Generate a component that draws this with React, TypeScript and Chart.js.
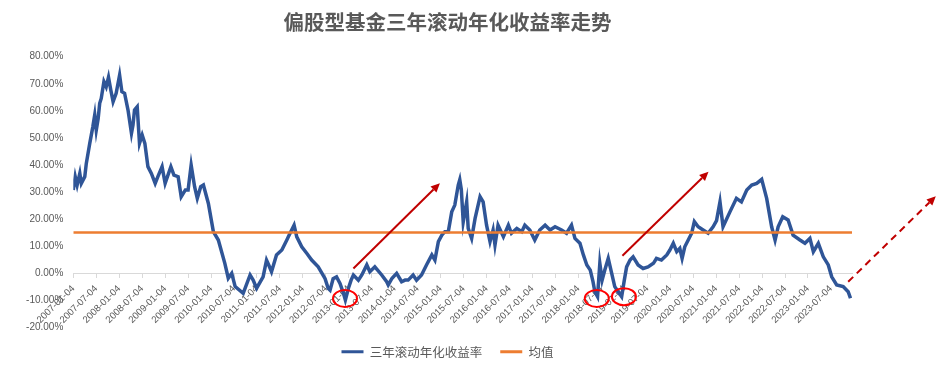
import React, { useEffect, useRef } from 'react';
import { Chart, registerables } from 'chart.js';

Chart.register(...registerables);

const TITLE = '偏股型基金三年滚动年化收益率走势';
const SERIES_NAMES = ['三年滚动年化收益率', '均值'];

const TICK_LABELS = [
  '2007-01-04', '2007-07-04', '2008-01-04', '2008-07-04', '2009-01-04', '2009-07-04',
  '2010-01-04', '2010-07-04', '2011-01-04', '2011-07-04', '2012-01-04', '2012-07-04',
  '2013-01-04', '2013-07-04', '2014-01-04', '2014-07-04', '2015-01-04', '2015-07-04',
  '2016-01-04', '2016-07-04', '2017-01-04', '2017-07-04', '2018-01-04', '2018-07-04',
  '2019-01-04', '2019-07-04', '2020-01-04', '2020-07-04', '2021-01-04', '2021-07-04',
  '2022-01-04', '2022-07-04', '2023-01-04', '2023-07-04',
];

// months elapsed since 2007-01-04
const MONTHS = [
  0.0, 0.5, 1.0, 1.7, 2.1, 3.0, 3.4, 4.3, 5.1, 5.6, 6.0, 6.5, 6.9, 7.3, 8.0, 8.6, 9.2, 9.8,
  10.4, 11.2, 12.1, 12.7, 13.4, 14.3, 15.2, 15.6, 16.0, 16.7, 17.3, 18.0, 18.7, 19.5, 20.4,
  21.4, 22.1, 23.2, 24.0, 25.5, 26.3, 27.4, 28.2, 29.3, 30.0, 30.8, 31.7, 32.4, 33.3, 34.0,
  35.3, 36.6, 37.9, 39.6, 40.5, 41.4, 42.3, 44.4, 46.2, 47.0, 47.9, 49.6, 50.5, 51.1, 51.8,
  53.1, 54.5, 55.8, 56.2, 57.7, 58.4, 59.7, 61.0, 62.3, 64.0, 65.0, 65.8, 66.6, 67.1, 67.9,
  68.8, 69.7, 70.6, 71.1, 71.9, 72.6, 73.2, 74.5, 75.4, 76.7, 77.5, 78.8, 80.6, 81.9, 82.3,
  83.3, 84.5, 85.8, 86.7, 87.5, 88.8, 89.7, 91.0, 92.3, 93.7, 94.5, 95.4, 96.3, 97.1, 98.0,
  98.9, 99.7, 100.6, 101.0, 101.4, 101.9, 102.8, 103.2, 104.1, 105.0, 106.3, 107.1, 108.0,
  108.9, 109.7, 110.2, 111.0, 112.4, 113.7, 114.5, 115.9, 117.2, 118.0, 119.3, 120.6, 121.9,
  123.3, 124.6, 125.9, 127.6, 128.9, 130.2, 131.1, 132.4, 133.3, 134.2, 135.1, 135.8, 136.3,
  137.0, 137.6, 138.2, 138.9, 139.8, 140.7, 141.5, 142.4, 143.3, 144.0, 144.6, 145.5, 146.3,
  147.6, 148.9, 150.2, 151.6, 152.4, 153.7, 155.1, 155.9, 156.8, 157.7, 158.5, 159.1, 159.8,
  160.7, 161.6, 162.3, 163.3, 164.6, 165.9, 167.2, 168.1, 169.0, 169.8, 171.6, 173.3, 174.6,
  176.0, 177.3, 178.6, 179.9, 181.2, 182.5, 183.4, 184.2, 185.4, 186.8, 188.1, 189.9, 191.2,
  192.5, 193.4, 194.7, 196.0, 197.3, 198.2, 199.5, 201.2, 202.5, 203.1,
];

// three-year rolling annualised return, %
const RETURNS = [
  30.8, 35.7, 32.6, 36.9, 33.2, 35.7, 40.6, 48.0, 54.1, 58.5, 52.9, 57.2, 62.8, 64.6, 70.8, 68.9, 72.4, 67.7,
  63.4, 66.5, 73.2, 67.1, 66.5, 60.3, 51.7, 54.8, 60.3, 61.5, 48.0, 51.1, 48.0, 39.4, 36.9,
  33.2, 35.7, 39.4, 33.2, 39.4, 36.3, 35.7, 28.3, 30.8, 30.8, 40.0, 32.0, 27.7, 32.0, 32.6,
  25.8, 15.4, 12.3, 3.7, -1.8, 0.0, -4.9, -7.4, -0.6, -2.5, -5.5, -1.3, 4.9, 3.0, 0.6,
  6.8, 8.6, 12.3, 13.5, 17.8, 13.5, 9.8, 7.4, 4.9, 2.4, 0.0, -2.0, -5.5, -6.2, -2.0,
  -1.3, -3.7, -7.4, -9.9, -5.5, -2.5, -0.6, -2.5, -0.6, 3.1, 0.6, 2.4, -0.6, -3.1, -4.3,
  -1.8, 0.0, -3.1, -2.5, -2.5, -0.6, -2.5, -0.6, 3.1, 6.8, 4.9, 11.7, 14.1, 15.4, 15.4,
  22.7, 25.2, 32.6, 34.6, 31.0, 19.0, 26.4, 16.6, 12.9, 20.3, 28.3, 26.4, 17.8,
  11.7, 16.0, 10.5, 17.8, 13.5, 17.8, 14.8, 16.6, 15.4, 17.8, 16.0, 12.3, 16.0,
  17.8, 16.0, 17.2, 16.0, 14.8, 17.8, 12.9, 11.1, 6.8, 3.1, 1.2, -3.0, -6.8,
  -8.6, 3.7, -2.5, 1.2, 5.5, 0.0, -4.9, -6.8, -8.6, -2.5, 2.4, 4.9, 6.1,
  3.1, 1.8, 2.4, 3.7, 5.5, 4.9, 6.8, 8.6, 11.1, 8.0, 9.2, 5.5, 9.8,
  12.3, 14.8, 19.1, 17.2, 16.0, 14.8, 17.2, 19.5, 26.4, 17.2, 22.7, 27.7, 26.4,
  30.8, 32.6, 33.2, 34.7, 27.7, 17.2, 12.3, 17.2, 20.9, 19.7, 14.1, 12.3, 11.1,
  12.9, 8.0, 11.1, 6.1, 3.1, -1.3, -4.3, -4.9, -6.8, -9.2,
];

const MEAN_RETURN = 15.1;
const X_MAX = 203.5;

// annotations in data coordinates: [month, value]
const ARROWS = [
  { from: [73.2, 1.8], to: [95.8, 33.3], dashed: false },
  { from: [143.5, 6.5], to: [166.0, 37.5], dashed: false },
  { from: [202.5, -3.1], to: [225.4, 28.5], dashed: true },
];
const CIRCLES = [
  [71.0, -9.3],
  [136.8, -9.3],
  [143.9, -8.6],
];

const annotationPlugin = {
  id: 'handAnnotations',
  afterDraw(chart: any) {
    const { ctx } = chart;
    const xs = chart.scales.x;
    const ys = chart.scales.y;
    ctx.save();
    ctx.strokeStyle = '#FF0000';
    ctx.lineWidth = 2;
    CIRCLES.forEach(([m, v]) => {
      ctx.beginPath();
      ctx.ellipse(xs.getPixelForValue(m), ys.getPixelForValue(v), 12, 8.5, 0, 0, Math.PI * 2);
      ctx.stroke();
    });
    ARROWS.forEach((a) => {
      const x1 = xs.getPixelForValue(a.from[0]);
      const y1 = ys.getPixelForValue(a.from[1]);
      const x2 = xs.getPixelForValue(a.to[0]);
      const y2 = ys.getPixelForValue(a.to[1]);
      const ang = Math.atan2(y2 - y1, x2 - x1);
      const head = 9;
      const half = 4.2;
      const bx = x2 - head * Math.cos(ang);
      const by = y2 - head * Math.sin(ang);
      ctx.strokeStyle = '#C00000';
      ctx.fillStyle = '#C00000';
      ctx.lineWidth = 2;
      ctx.setLineDash(a.dashed ? [7, 5] : []);
      ctx.beginPath();
      ctx.moveTo(x1, y1);
      ctx.lineTo(bx, by);
      ctx.stroke();
      ctx.setLineDash([]);
      ctx.beginPath();
      ctx.moveTo(x2, y2);
      ctx.lineTo(bx + half * Math.sin(ang), by - half * Math.cos(ang));
      ctx.lineTo(bx - half * Math.sin(ang), by + half * Math.cos(ang));
      ctx.closePath();
      ctx.fill();
    });
    ctx.restore();
  },
};

const TEXT_COLOR = '#595959';

export default function App() {
  const ref = useRef<HTMLCanvasElement | null>(null);

  useEffect(() => {
    if (!ref.current) return;
    const chart = new Chart(ref.current, {
      type: 'line',
      data: {
        datasets: [
          {
            label: SERIES_NAMES[0],
            data: MONTHS.map((m, i) => ({ x: m, y: RETURNS[i] })),
            borderColor: '#2F5597',
            backgroundColor: '#2F5597',
            borderWidth: 3.5,
            pointRadius: 0,
            tension: 0,
            order: 1,
          },
          {
            label: SERIES_NAMES[1],
            data: [
              { x: 0, y: MEAN_RETURN },
              { x: X_MAX, y: MEAN_RETURN },
            ],
            borderColor: '#ED7D31',
            backgroundColor: '#ED7D31',
            borderWidth: 2.5,
            pointRadius: 0,
            order: 0,
          },
        ],
      },
      options: {
        animation: false,
        responsive: false,
        layout: { padding: { left: 18, right: 60, top: 0, bottom: -2 } },
        plugins: {
          title: {
            display: true,
            text: TITLE,
            color: TEXT_COLOR,
            font: { family: 'Noto Sans CJK SC', size: 20.5, weight: 'bold', lineHeight: 1.2 },
            padding: { top: 10, bottom: 22.1 },
          },
          legend: {
            position: 'bottom',
            labels: {
              boxWidth: 22,
              boxHeight: 3,
              padding: 18,
              color: TEXT_COLOR,
              font: { family: 'Noto Sans CJK SC', size: 12.5 },
              sort: (a: any, b: any) => a.datasetIndex - b.datasetIndex,
              generateLabels: (c: any) =>
                (Chart.defaults.plugins.legend.labels as any)
                  .generateLabels(c)
                  .map((l: any) => ({ ...l, lineWidth: 0, fillStyle: l.strokeStyle })),
            },
          },
          tooltip: { enabled: false },
        },
        scales: {
          x: {
            type: 'linear',
            min: 0,
            max: X_MAX,
            position: { y: 0 } as any,
            grid: { display: true, drawOnChartArea: false, drawTicks: true, tickLength: 4, color: '#D9D9D9' },
            border: { display: true, color: '#D9D9D9', width: 1 },
            ticks: {
              stepSize: 6,
              autoSkip: false,
              includeBounds: false,
              minRotation: 45,
              maxRotation: 45,
              padding: 8,
              color: TEXT_COLOR,
              font: { family: 'Liberation Sans', size: 9.6, lineHeight: 0.5 },
              callback: (v: any) => {
                const i = Number(v) / 6;
                return Number.isInteger(i) && TICK_LABELS[i] ? TICK_LABELS[i] : '';
              },
            },
            afterFit: (s: any) => {
              s.paddingLeft = 0;
              s.paddingRight = 0;
            },
          },
          y: {
            min: -20,
            max: 80,
            grid: { display: false, drawTicks: false },
            border: { display: false },
            ticks: {
              stepSize: 10,
              padding: 10,
              color: TEXT_COLOR,
              font: { family: 'Liberation Sans', size: 10 },
              callback: (v: any) => Number(v).toFixed(2) + '%',
            },
            afterFit: (s: any) => {
              s.width = 55.3;
            },
          },
          spacer: {
            type: 'linear',
            position: 'right',
            display: true,
            grid: { display: false, drawTicks: false },
            border: { display: false },
            ticks: { display: false },
            afterFit: (s: any) => {
              s.width = 25;
            },
          },
        },
      },
      plugins: [annotationPlugin],
    } as any);
    return () => chart.destroy();
  }, []);

  return (
    <div style={{ position: 'fixed', left: 0, top: 0, width: 937, height: 366, background: '#fff' }}>
      <canvas ref={ref} width={937} height={366} style={{ display: 'block' }} />
    </div>
  );
}
